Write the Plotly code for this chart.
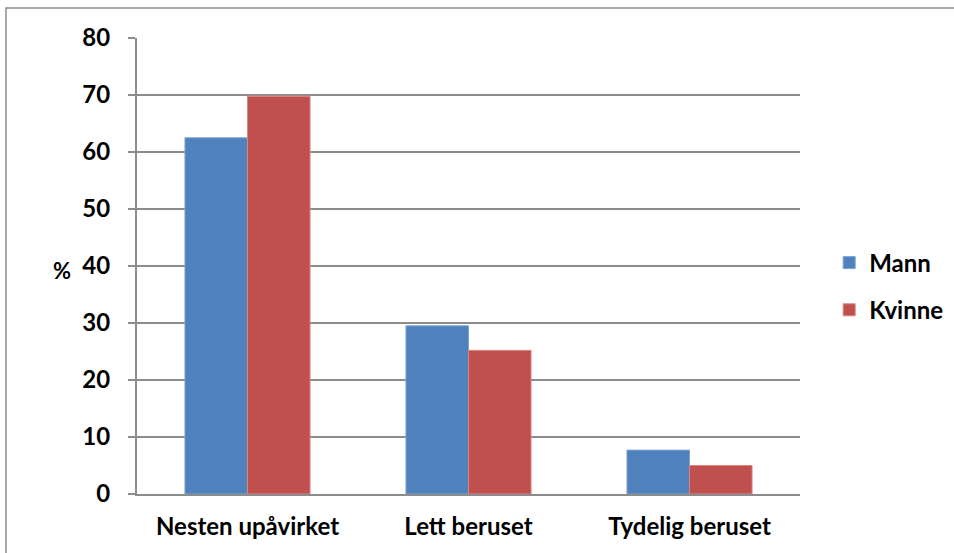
import plotly.graph_objects as go

# ----------------------------------
# DATA
# ----------------------------------

categories = ["Nesten upåvirket", "Lett beruset", "Tydelig beruset"]
mann = [62.5, 29.5, 7.7]
kvinne = [69.8, 25.2, 5.0]
y_ticks = [0, 10, 20, 30, 40, 50, 60, 70, 80]

FONT = "Lato"
SIZE = 24
GRID = "#8c8c8c"

fig = go.Figure()

fig.add_trace(go.Bar(
    x=categories,
    y=mann,
    name="Mann",
    legendgroup="m",
    marker=dict(color="#4F81BD", line=dict(color="#7fa3d3", width=1))
))

fig.add_trace(go.Bar(
    x=categories,
    y=kvinne,
    name="Kvinne",
    legendgroup="k",
    marker=dict(color="#C0504D", line=dict(color="#d98683", width=1))
))

fig.update_layout(
    width=954,
    height=553,
    barmode="group",
    bargap=0.434,
    bargroupgap=0,
    plot_bgcolor="white",
    paper_bgcolor="white",
    margin=dict(l=137, r=154, t=38, b=59, autoexpand=False),
    font=dict(family=FONT, size=SIZE, color="black"),
    legend=dict(
        x=1.044,
        y=0.455,
        xanchor="left",
        yanchor="middle",
        font=dict(family=FONT, size=SIZE, color="black", weight="bold"),
        itemwidth=30,
        tracegroupgap=13,
        bgcolor="rgba(0,0,0,0)"
    ),
    showlegend=True
)

fig.update_xaxes(
    showgrid=False,
    showline=True,
    linecolor=GRID,
    linewidth=2,
    ticks="",
    ticklabelstandoff=10,
    tickfont=dict(family=FONT, size=SIZE, color="black", weight="bold")
)

fig.update_yaxes(
    range=[0, 80],
    tickvals=y_ticks,
    showgrid=True,
    gridcolor=GRID,
    gridwidth=1.5,
    showline=True,
    linecolor=GRID,
    linewidth=2,
    ticks="outside",
    ticklen=7,
    tickcolor=GRID,
    tickwidth=1.5,
    ticklabelstandoff=13,
    zeroline=False,
    tickfont=dict(family=FONT, size=SIZE, color="black", weight="bold")
)

# "%" axis label, horizontal like the original
fig.add_annotation(
    text="%",
    xref="paper", yref="paper",
    x=-0.13, y=0.49,
    showarrow=False,
    font=dict(family=FONT, size=22, color="black", weight="bold")
)

# chart frame
fig.add_shape(
    type="rect",
    xref="paper", yref="paper",
    x0=(6 - 137) / 663, x1=(1000 - 137) / 663,
    y0=(494 - 600) / 456, y1=(494 - 8) / 456,
    line=dict(color="#8c8c8c", width=1.5),
    layer="below"
)

fig.write_html(
    "out.html",
    config={"displayModeBar": False},
    post_script="document.body.style.margin='0';document.body.style.overflow='hidden';"
)
